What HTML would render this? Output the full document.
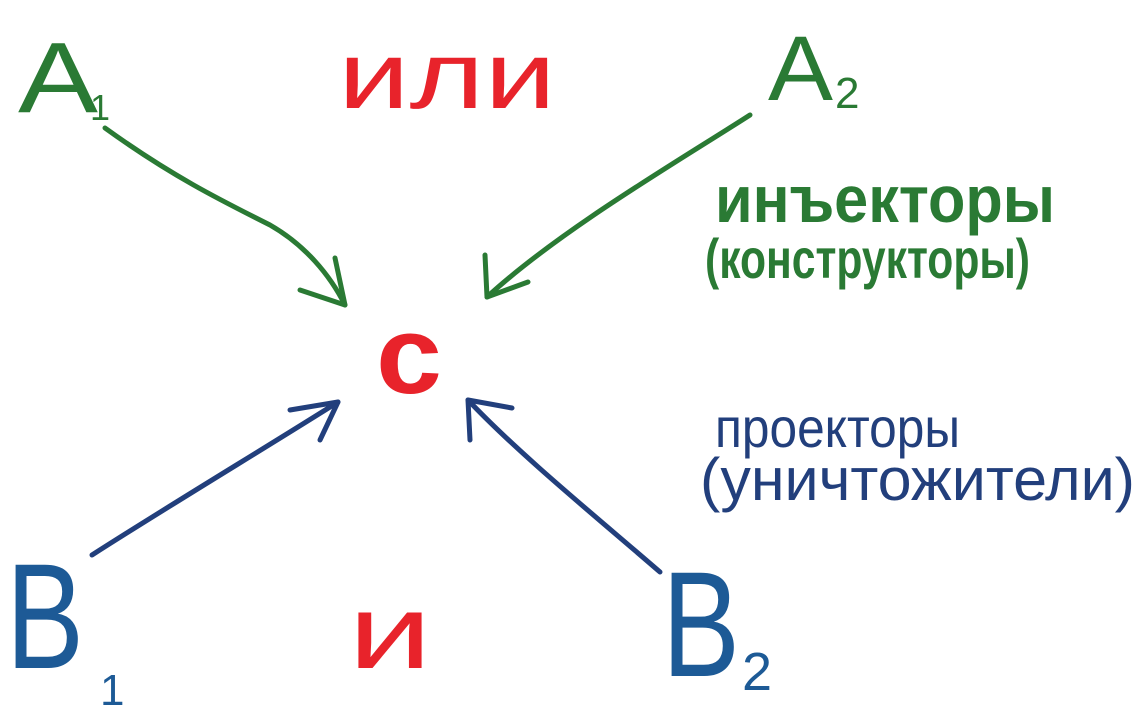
<!DOCTYPE html>
<html><head><meta charset="utf-8">
<style>
html,body{margin:0;padding:0;background:#fff;}
svg{display:block;}
text{font-family:"Liberation Sans","DejaVu Sans",sans-serif;}
</style></head>
<body>
<svg width="1141" height="713" viewBox="0 0 1141 713">
  <g fill="none" stroke-linecap="round" stroke-linejoin="round" stroke-width="5">
    <g stroke="#2a7a34">
      <path d="M105,128 C170,175 220,200 270,225 C305,245 330,275 345,305"/>
      <path d="M300,290 L345,305 L335,258"/>
    </g>
    <g stroke="#2a7a34">
      <path d="M750,115 C680,160 560,230 487,297"/>
      <path d="M485,255 L487,297 L528,282"/>
    </g>
    <g stroke="#223f7c">
      <path d="M92,555 C170,505 270,445 338,402"/>
      <path d="M290,410 L338,402 L320,440"/>
    </g>
    <g stroke="#223f7c">
      <path d="M660,572 C600,520 520,455 468,400"/>
      <path d="M470,440 L468,400 L512,408"/>
    </g>
  </g>
  <g fill="#2a7a34">
    <text x="18" y="112" font-size="100" textLength="80" lengthAdjust="spacingAndGlyphs">A</text>
    <text x="90" y="120" font-size="36">1</text>
  </g>
  <text x="338" y="108" font-size="95" fill="#e8232b" textLength="218" lengthAdjust="spacingAndGlyphs">или</text>
  <g fill="#2a7a34">
    <text x="768" y="100" font-size="92" textLength="65" lengthAdjust="spacingAndGlyphs">A</text>
    <text x="835" y="108" font-size="44">2</text>
  </g>
  <text x="715" y="222" font-size="66" font-weight="bold" fill="#2a7a34" textLength="340" lengthAdjust="spacingAndGlyphs">инъекторы</text>
  <text x="705" y="278" font-size="56" font-weight="bold" fill="#2a7a34" textLength="325" lengthAdjust="spacingAndGlyphs">(конструкторы)</text>
  <text x="376" y="393" font-size="110" font-weight="bold" fill="#e8232b" textLength="66" lengthAdjust="spacingAndGlyphs">c</text>
  <text x="715" y="447" font-size="56" fill="#223f7c" textLength="245" lengthAdjust="spacingAndGlyphs">проекторы</text>
  <text x="700" y="500" font-size="60" fill="#223f7c" textLength="435" lengthAdjust="spacingAndGlyphs">(уничтожители)</text>
  <g fill="#1d5a96">
    <text x="6" y="668" font-size="150" textLength="78" lengthAdjust="spacingAndGlyphs">B</text>
    <text x="100" y="705" font-size="44">1</text>
  </g>
  <text x="348" y="668" font-size="105" fill="#e8232b" textLength="84" lengthAdjust="spacingAndGlyphs">и</text>
  <g fill="#1d5a96">
    <text x="662" y="676" font-size="150" textLength="78" lengthAdjust="spacingAndGlyphs">B</text>
    <text x="742" y="690" font-size="54">2</text>
  </g>
</svg>
</body></html>
